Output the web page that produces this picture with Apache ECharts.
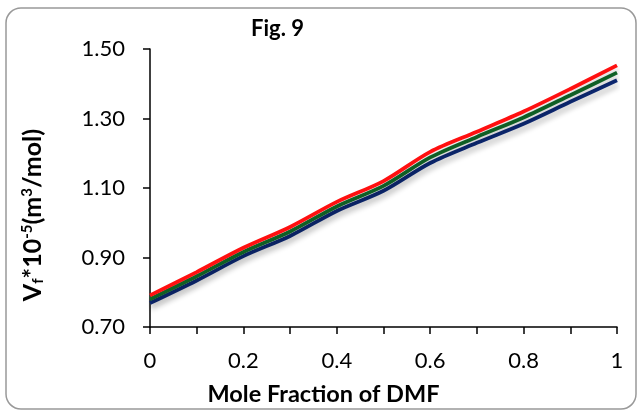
<!DOCTYPE html>
<html>
<head>
<meta charset="utf-8">
<script src="https://cdn.jsdelivr.net/npm/echarts@6/dist/echarts.min.js"></script>
<style>
  html, body { margin: 0; padding: 0; background: #fff; }
  #chart { width: 642px; height: 416px; }
</style>
</head>
<body>
<div id="chart"></div>
<script>
// mole fraction of DMF
const xValues = [0, 0.1, 0.2, 0.3, 0.4, 0.5, 0.6, 0.7, 0.8, 0.9, 1.0];
// Vf * 10^-5 (m3/mol)
const redValues = [0.791, 0.858, 0.928, 0.988, 1.060, 1.120, 1.204, 1.262, 1.320, 1.385, 1.453];
const greenValues = [0.780, 0.846, 0.916, 0.975, 1.047, 1.106, 1.188, 1.247, 1.303, 1.367, 1.432];
const navyValues = [0.769, 0.834, 0.904, 0.962, 1.034, 1.092, 1.172, 1.230, 1.285, 1.348, 1.410];
const xTickLabels = ['0', '0.2', '0.4', '0.6', '0.8', '1'];

const font = 'Lato, "Open Sans", sans-serif';

function pairs(vals) {
    return xValues.map((x, i) => [x, vals[i]]);
}

function lineSeries(name, color, vals) {
    return {
        name,
        type: 'line',
        smooth: 0.3,
        symbol: 'none',
        data: pairs(vals),
        lineStyle: {
            color,
            width: 3.8,
            shadowColor: 'rgba(0,0,0,0.22)',
            shadowBlur: 5,
            shadowOffsetY: 5,
            shadowOffsetX: 1,
        },
        z: 3,
    };
}

const chart = echarts.init(document.getElementById('chart'));

chart.setOption({
    animation: false,
    title: {
        text: 'Fig. 9',
        left: 246,
        top: 13,
        textStyle: { fontFamily: font, fontWeight: 'bold', fontSize: 22, color: '#000' },
    },
    graphic: [{
        type: 'rect',
        shape: { x: 6, y: 8, width: 630, height: 401, r: 15 },
        style: { fill: 'none', stroke: '#999', lineWidth: 1.5 },
        silent: true,
    }],
    grid: { left: 150, right: 25, top: 49, bottom: 89 },
    xAxis: {
        type: 'value',
        min: 0,
        max: 1,
        interval: 0.1,
        name: 'Mole Fraction of DMF',
        nameLocation: 'middle',
        nameGap: 55,
        nameTextStyle: {
            fontFamily: font, fontWeight: 'bold', fontSize: 23.5, color: '#000',
            padding: [0, 120, 0, 0],
        },
        axisLine: { lineStyle: { color: '#000', width: 1.5 } },
        axisTick: { inside: false, length: 7, lineStyle: { color: '#000', width: 1.5 } },
        axisLabel: {
            margin: 23,
            fontFamily: font,
            fontSize: 22,
            color: '#000',
            formatter: (v) => {
                const k = Math.round(v * 10);
                return k % 2 === 0 ? xTickLabels[k / 2] : '';
            },
        },
        splitLine: { show: false },
    },
    yAxis: {
        type: 'value',
        min: 0.7,
        max: 1.5,
        interval: 0.2,
        name: '{a|V}{sub|f}{a|*10}{sup|-5}{a|(m}{sup|3}{a|/mol)}',
        nameLocation: 'middle',
        nameGap: 104,
        nameTextStyle: {
            padding: [0, 54, 0, 0],
            rich: {
                a: { fontFamily: font, fontWeight: 'bold', fontSize: 25, color: '#000' },
                sup: { fontFamily: font, fontWeight: 'bold', fontSize: 15, color: '#000', padding: [0, 0, 11, 0] },
                sub: { fontFamily: font, fontWeight: 'bold', fontSize: 15, color: '#000', padding: [11, 0, 0, 0] },
            },
        },
        axisLine: { show: true, lineStyle: { color: '#000', width: 1.5 } },
        axisTick: { show: true, inside: false, length: 7, lineStyle: { color: '#000', width: 1.5 } },
        axisLabel: {
            margin: 25,
            fontFamily: font,
            fontSize: 22,
            color: '#000',
            formatter: (v) => v.toFixed(2),
        },
        splitLine: { show: false },
    },
    series: [
        lineSeries('navy', '#0d2a78', navyValues),
        lineSeries('green', '#116b2a', greenValues),
        lineSeries('red', '#ff1010', redValues),
    ],
});
</script>
</body>
</html>
